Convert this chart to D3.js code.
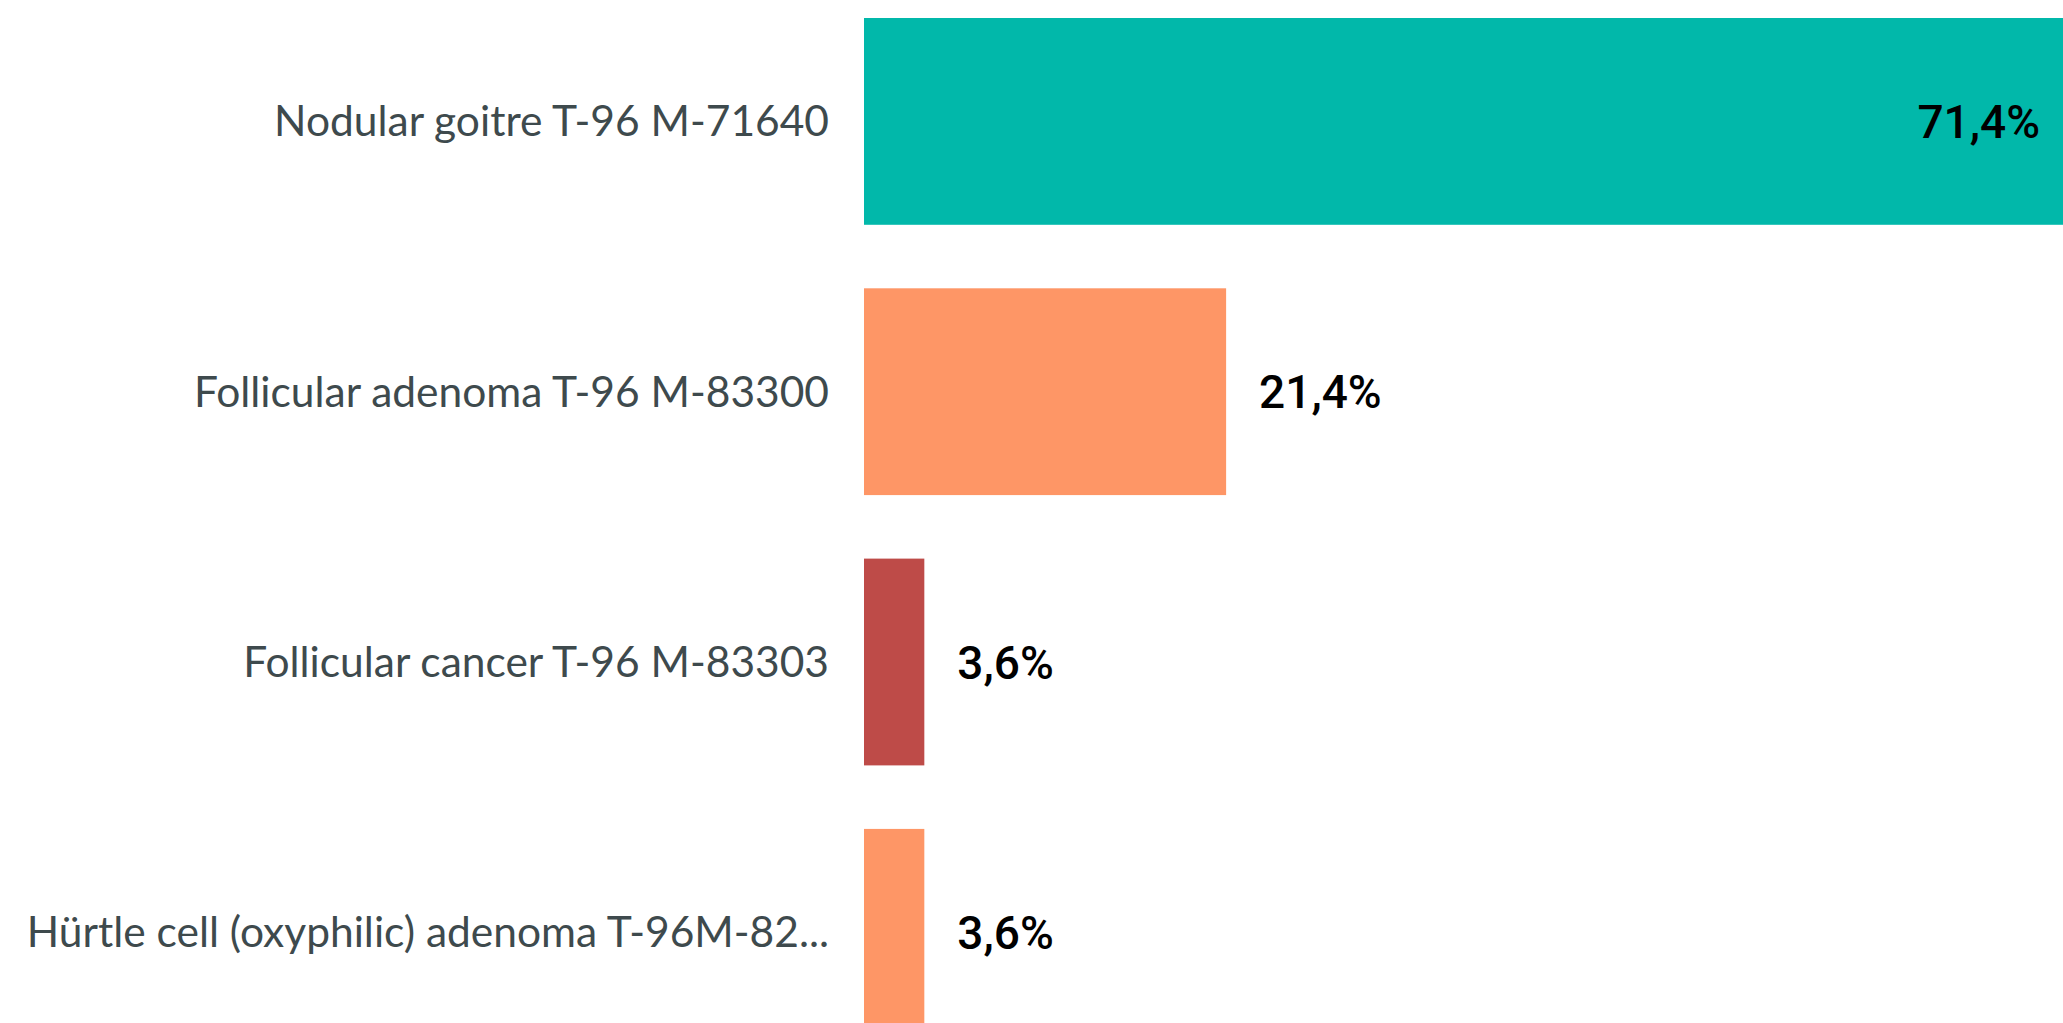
<!DOCTYPE html>
<html>
<head>
<meta charset="utf-8">
<script src="https://cdn.jsdelivr.net/npm/d3@7"></script>
<style>
  html, body { margin: 0; padding: 0; background: #ffffff; overflow: hidden; }
  svg { display: block; }
</style>
</head>
<body>
<script>
const categories = [
  "Nodular goitre T-96 M-71640",
  "Follicular adenoma T-96 M-83300",
  "Follicular cancer T-96 M-83303",
  "Hürtle cell (oxyphilic) adenoma T-96M-82..."
];
const values = [71.43, 21.43, 3.57, 3.57];
const valueLabels = ["71,4%", "21,4%", "3,6%", "3,6%"];
const colors = ["#01B8AA", "#FE9666", "#BE4B48", "#FE9666"];

const W = 2063, H = 1023;
const svg = d3.select("body").append("svg").attr("width", W).attr("height", H);

const x = d3.scaleLinear().domain([0, 71.43]).range([864, 2071]);
const y = d3.scaleBand().domain(categories).range([18, 1035.7]).paddingInner(0.235).paddingOuter(0);

svg.selectAll("rect.bar").data(categories).join("rect")
  .attr("class", "bar")
  .attr("x", x(0))
  .attr("y", d => y(d))
  .attr("width", (d, i) => x(values[i]) - x(0))
  .attr("height", y.bandwidth())
  .attr("fill", (d, i) => colors[i]);

svg.selectAll("text.cat").data(categories).join("text")
  .attr("class", "cat")
  .attr("x", x(0) - 35)
  .attr("y", d => y(d) + y.bandwidth() / 2)
  .attr("dy", "0.35em")
  .attr("text-anchor", "end")
  .attr("font-family", "Lato, 'Open Sans', sans-serif")
  .attr("font-size", 42.5)
  .attr("fill", "#3E4A4D")
  .text(d => d);

svg.selectAll("text.val").data(categories).join("text")
  .attr("class", "val")
  .attr("x", (d, i) => i === 0 ? 2040 : x(values[i]) + 33)
  .attr("y", d => y(d) + y.bandwidth() / 2)
  .attr("dy", "0.36em")
  .attr("text-anchor", (d, i) => i === 0 ? "end" : "start")
  .attr("font-family", "Roboto, sans-serif")
  .attr("font-weight", 500)
  .attr("font-size", 46)
  .attr("fill", "#000000")
  .text((d, i) => valueLabels[i]);
</script>
</body>
</html>
